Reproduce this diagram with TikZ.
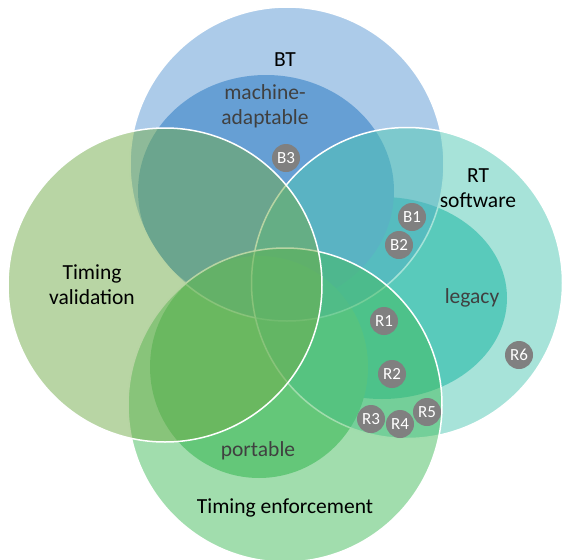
\documentclass[tikz,border=0pt]{standalone}
\usepackage{fontspec}
\setmainfont{Carlito}
\usetikzlibrary{positioning, shapes.geometric}

\definecolor{btblue}{RGB}{89,151,211}
\definecolor{mablue}{RGB}{117,169,215}
\definecolor{rtteal}{RGB}{79,199,179}
\definecolor{legteal}{RGB}{101,207,197}
\definecolor{tvgreen}{RGB}{113,171,73}
\definecolor{tegreen}{RGB}{67,187,91}
\definecolor{ptgreen}{RGB}{135,213,153}
\definecolor{tagfill}{RGB}{128,128,128}
\definecolor{subtext}{RGB}{64,64,64}

\begin{document}
\begin{tikzpicture}[x=1pt, y=-1pt,
      set/.style={circle, draw=white, line width=1.5pt, fill opacity=0.5,
                  inner sep=0pt, minimum size=314pt},
      sub/.style={ellipse, inner sep=0pt},
      tag/.style={circle, fill=tagfill, text=white, inner sep=0pt,
                  minimum size=28pt, font=\fontsize{17}{17}\selectfont},
      lbl/.style={font=\fontsize{21.5}{25}\selectfont, align=center},
      sublbl/.style={lbl, text=subtext}]

    \useasboundingbox (0,0) rectangle (563,560);

    % === sub-sets (underneath, tinted by the sets above) ===
    \node[sub, fill=legteal, minimum width=250pt, minimum height=202pt] (leg) at (382,298) {};
    \node[sub, fill=mablue, minimum width=256pt, minimum height=232pt] (ma) at (266,191) {};
    \node[sub, fill=ptgreen, minimum width=218pt, minimum height=222pt] (pt) at (259,367) {};

    % === sets ===
    \node[set, fill=btblue] (bt) at (287,164) {};
    \node[set, fill=rtteal, minimum size=311pt] (rt) at (407,283) {};
    \node[set, fill=tegreen] (te) at (285,405) {};
    \node[set, fill=tvgreen] (tv) at (165,285) {};

    % labels
    \node[lbl] (btlbl) at (285,60) {BT};
    \node[sublbl] (malbl) at (265,106) {machine-\\adaptable};
    \node[lbl] (rtlbl) at (478,188) {RT\\software};
    \node[sublbl] (leglbl) at (472,298) {legacy};
    \node[lbl] (tvlbl) at (92,285) {Timing\\validation};
    \node[sublbl] (ptlbl) at (258,451) {portable};
    \node[lbl] (telbl) at (285,508) {Timing enforcement};

    % requirement tags
    \node[tag] (b3) at (286,158) {B3};
    \node[tag] (b1) at (412,217) {B1};
    \node[tag] (b2) at (399,245) {B2};
    \node[tag] (r1) at (384,321) {R1};
    \node[tag] (r2) at (392,374) {R2};
    \node[tag] (r3) at (371,419) {R3};
    \node[tag] (r5) at (427,412) {R5};
    \node[tag] (r4) at (400,424) {R4};
    \node[tag] (r6) at (519,355) {R6};

\end{tikzpicture}
\end{document}
